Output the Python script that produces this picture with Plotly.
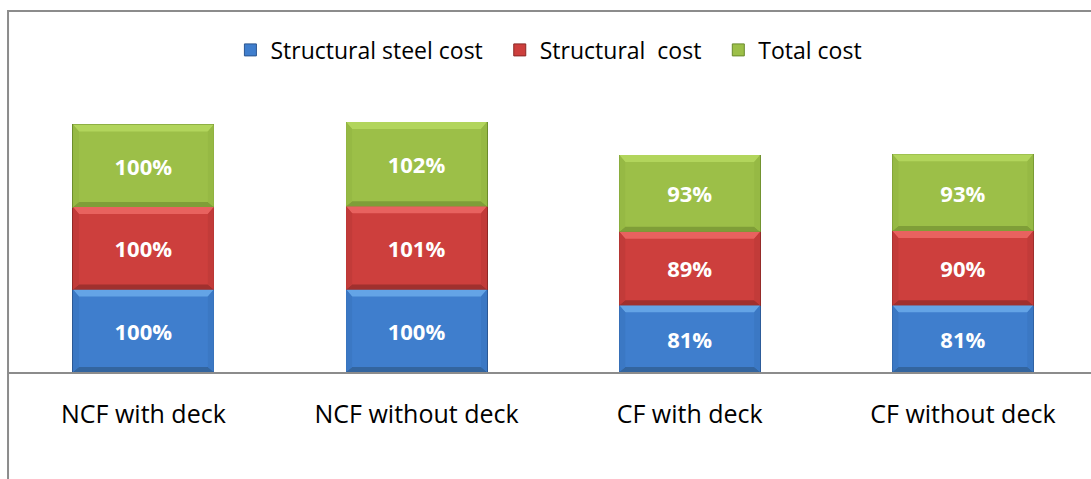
import plotly.graph_objects as go

categories = ["NCF with deck", "NCF without deck", "CF with deck", "CF without deck"]
steel_cost = [100, 100, 81, 81]
structural_cost = [100, 101, 89, 90]
total_cost = [100, 102, 93, 93]

series_names = ["Structural steel cost\u00a0\u00a0", "Structural\u00a0\u00a0cost\u00a0\u00a0", "Total cost"]
series_values = [steel_cost, structural_cost, total_cost]
fill_colors = ["#3F7ECD", "#CD3F3D", "#9CBF48"]
edge_colors = ["#2B5690", "#8A2826", "#6A8A2C"]
top_colors = ["#64A4E6", "#E8625F", "#B2D55C"]
bottom_colors = ["#33659F", "#A0302E", "#7F9E38"]
side_colors = ["#3B78C4", "#C23B39", "#96B944"]

FONT = "Open Sans"
BAR_W = 0.516
Y_MAX = 329.7
# bevel sizes, expressed in axis units (px / px-per-unit)
BEVEL_X = 6 / 273.2
BEVEL_TOP = 7 / 0.825
BEVEL_BOT = 5 / 0.825

xpos = list(range(len(categories)))

fig = go.Figure()
for name, vals, fc, ec in zip(series_names, series_values, fill_colors, edge_colors):
    fig.add_trace(go.Bar(
        x=xpos,
        y=vals,
        name=name,
        width=BAR_W,
        marker=dict(color=fc, line=dict(color=ec, width=1)),
        text=[f"{v}%" for v in vals],
        textposition="inside",
        insidetextanchor="middle",
        textangle=0,
        constraintext="none",
        textfont=dict(family=FONT, size=22, color="white", weight="bold"),
        hoverinfo="skip",
    ))

# bevel shading on each stacked segment
shapes = []
base = [0] * len(categories)
for vals, tc, bc, sc in zip(series_values, top_colors, bottom_colors, side_colors):
    for i, v in enumerate(vals):
        x0, x1 = i - BAR_W / 2, i + BAR_W / 2
        lo, hi = base[i], base[i] + v
        top = (f"M {x0} {hi} L {x1} {hi} L {x1 - BEVEL_X} {hi - BEVEL_TOP} "
               f"L {x0 + BEVEL_X} {hi - BEVEL_TOP} Z")
        bot = (f"M {x0} {lo} L {x1} {lo} L {x1 - BEVEL_X} {lo + BEVEL_BOT} "
               f"L {x0 + BEVEL_X} {lo + BEVEL_BOT} Z")
        left = (f"M {x0} {lo} L {x0 + BEVEL_X} {lo + BEVEL_BOT} "
                f"L {x0 + BEVEL_X} {hi - BEVEL_TOP} L {x0} {hi} Z")
        right = (f"M {x1} {lo} L {x1 - BEVEL_X} {lo + BEVEL_BOT} "
                 f"L {x1 - BEVEL_X} {hi - BEVEL_TOP} L {x1} {hi} Z")
        for path, col in ((top, tc), (bot, bc), (left, sc), (right, sc)):
            shapes.append(dict(type="path", xref="x", yref="y", path=path,
                               fillcolor=col, line=dict(width=0), layer="above"))
        base[i] = hi

# chart-area frame
shapes.append(dict(type="rect", xref="paper", yref="paper",
                   x0=-0.0009, x1=1.2, y0=-1.0, y1=1.327,
                   line=dict(color="#8C8C8C", width=2),
                   fillcolor="rgba(0,0,0,0)", layer="below"))

fig.update_layout(
    barmode="stack",
    width=1091,
    height=479,
    margin=dict(l=9, r=0, t=100, b=107),
    paper_bgcolor="white",
    plot_bgcolor="white",
    font=dict(family=FONT, size=23, color="black"),
    showlegend=True,
    legend=dict(
        orientation="h",
        x=0.499, xanchor="center",
        y=1.184, yanchor="middle",
        font=dict(family=FONT, size=23, color="black"),
        itemwidth=30,
        traceorder="normal",
    ),
    xaxis=dict(
        range=[-0.492, 3.469],
        tickmode="array", tickvals=xpos, ticktext=categories,
        showline=True, linecolor="#8C8C8C", linewidth=2,
        ticks="", showgrid=False, zeroline=False,
        ticklabelstandoff=19,
        tickfont=dict(family=FONT, size=25, color="black"),
    ),
    yaxis=dict(
        range=[0, Y_MAX],
        visible=False, showgrid=False, zeroline=False,
    ),
    shapes=shapes,
)

fig.write_html("out.html")
